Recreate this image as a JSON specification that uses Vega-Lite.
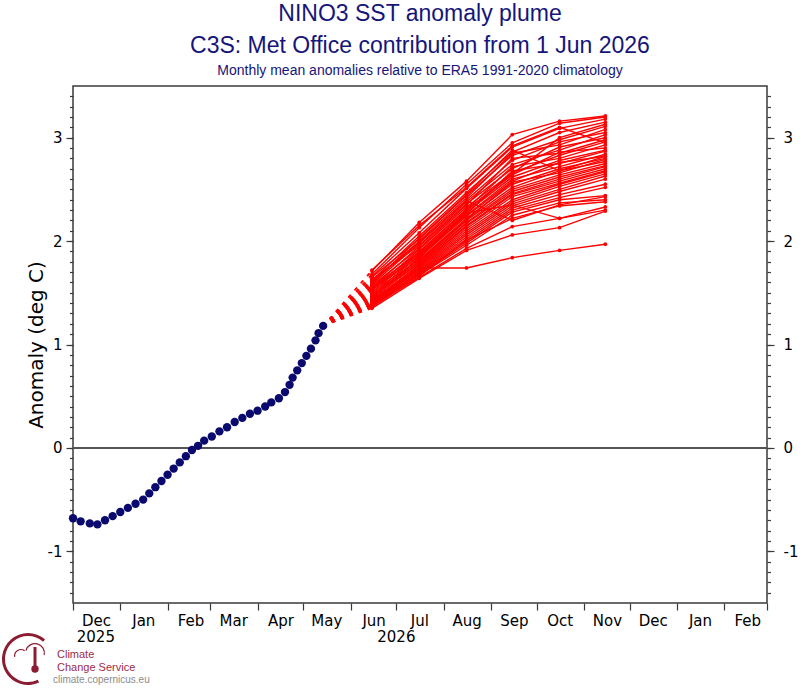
{
  "$schema": "https://vega.github.io/schema/vega-lite/v6.json",
  "autosize": {"type": "none"},
  "width": 694,
  "height": 517,
  "padding": {"left": 73, "top": 86, "right": 33, "bottom": 85},
  "background": "white",
  "title": {
    "text": ["NINO3 SST anomaly plume", "C3S: Met Office contribution from 1 Jun 2026"],
    "subtitle": "Monthly mean anomalies relative to ERA5 1991-2020 climatology",
    "anchor": "middle", "frame": "group",
    "font": "Liberation Sans", "fontSize": 23, "fontWeight": "normal", "color": "#15157a", "lineHeight": 32,
    "subtitleFont": "Liberation Sans", "subtitleFontSize": 14, "subtitleColor": "#15157a", "subtitlePadding": 6,
    "offset": 8
  },
  "config": {
    "view": {"stroke": "#3a3a3a", "strokeWidth": 1.5},
    "axis": {"domain": false, "grid": false, "labelFont": "DejaVu Sans", "labelFontSize": 15, "labelColor": "#000000", "tickColor": "#3a3a3a", "tickWidth": 1.2, "titleFont": "DejaVu Sans", "titleColor": "#000000"}
  },
  "datasets": {
    "obs": [
      {"t":"2025-12-01","v":-0.68},{"t":"2025-12-06","v":-0.71},{"t":"2025-12-12","v":-0.73},{"t":"2025-12-17","v":-0.74},{"t":"2025-12-22","v":-0.70},{"t":"2025-12-27","v":-0.66},{"t":"2026-01-01","v":-0.62},{"t":"2026-01-06","v":-0.58},{"t":"2026-01-11","v":-0.54},{"t":"2026-01-16","v":-0.50},{"t":"2026-01-20","v":-0.44},{"t":"2026-01-24","v":-0.38},{"t":"2026-01-28","v":-0.32},{"t":"2026-02-01","v":-0.26},{"t":"2026-02-05","v":-0.20},{"t":"2026-02-09","v":-0.14},{"t":"2026-02-13","v":-0.08},{"t":"2026-02-17","v":-0.02},{"t":"2026-02-21","v":0.02},{"t":"2026-02-25","v":0.07},{"t":"2026-03-02","v":0.11},{"t":"2026-03-07","v":0.16},{"t":"2026-03-12","v":0.20},{"t":"2026-03-17","v":0.25},{"t":"2026-03-22","v":0.29},{"t":"2026-03-27","v":0.33},{"t":"2026-04-01","v":0.36},{"t":"2026-04-06","v":0.40},{"t":"2026-04-10","v":0.44},{"t":"2026-04-15","v":0.48},{"t":"2026-04-19","v":0.54},{"t":"2026-04-22","v":0.61},{"t":"2026-04-24","v":0.68},{"t":"2026-04-27","v":0.75},{"t":"2026-04-30","v":0.82},{"t":"2026-05-03","v":0.89},{"t":"2026-05-06","v":0.96},{"t":"2026-05-09","v":1.04},{"t":"2026-05-11","v":1.11},{"t":"2026-05-14","v":1.18}
    ],
    "ens": [
      {"m":1,"t":"2026-05-14","v":1.18},{"m":1,"t":"2026-06-15","v":1.71},{"m":1,"t":"2026-07-16","v":2.18},{"m":1,"t":"2026-08-16","v":2.58},{"m":1,"t":"2026-09-15","v":3.03},{"m":1,"t":"2026-10-16","v":3.16},{"m":1,"t":"2026-11-15","v":3.21},
      {"m":2,"t":"2026-05-14","v":1.18},{"m":2,"t":"2026-06-15","v":1.68},{"m":2,"t":"2026-07-16","v":2.13},{"m":2,"t":"2026-08-16","v":2.55},{"m":2,"t":"2026-09-15","v":2.95},{"m":2,"t":"2026-10-16","v":3.14},{"m":2,"t":"2026-11-15","v":3.20},
      {"m":3,"t":"2026-05-14","v":1.18},{"m":3,"t":"2026-06-15","v":1.66},{"m":3,"t":"2026-07-16","v":2.08},{"m":3,"t":"2026-08-16","v":2.51},{"m":3,"t":"2026-09-15","v":2.91},{"m":3,"t":"2026-10-16","v":3.09},{"m":3,"t":"2026-11-15","v":3.18},
      {"m":4,"t":"2026-05-14","v":1.18},{"m":4,"t":"2026-06-15","v":1.62},{"m":4,"t":"2026-07-16","v":2.05},{"m":4,"t":"2026-08-16","v":2.47},{"m":4,"t":"2026-09-15","v":2.86},{"m":4,"t":"2026-10-16","v":3.05},{"m":4,"t":"2026-11-15","v":3.15},
      {"m":5,"t":"2026-05-14","v":1.18},{"m":5,"t":"2026-06-15","v":1.65},{"m":5,"t":"2026-07-16","v":2.02},{"m":5,"t":"2026-08-16","v":2.44},{"m":5,"t":"2026-09-15","v":2.83},{"m":5,"t":"2026-10-16","v":2.98},{"m":5,"t":"2026-11-15","v":3.11},
      {"m":6,"t":"2026-05-14","v":1.18},{"m":6,"t":"2026-06-15","v":1.60},{"m":6,"t":"2026-07-16","v":2.00},{"m":6,"t":"2026-08-16","v":2.42},{"m":6,"t":"2026-09-15","v":2.85},{"m":6,"t":"2026-10-16","v":2.93},{"m":6,"t":"2026-11-15","v":3.08},
      {"m":7,"t":"2026-05-14","v":1.18},{"m":7,"t":"2026-06-15","v":1.58},{"m":7,"t":"2026-07-16","v":1.98},{"m":7,"t":"2026-08-16","v":2.40},{"m":7,"t":"2026-09-15","v":2.78},{"m":7,"t":"2026-10-16","v":2.96},{"m":7,"t":"2026-11-15","v":3.05},
      {"m":8,"t":"2026-05-14","v":1.18},{"m":8,"t":"2026-06-15","v":1.63},{"m":8,"t":"2026-07-16","v":1.96},{"m":8,"t":"2026-08-16","v":2.38},{"m":8,"t":"2026-09-15","v":2.74},{"m":8,"t":"2026-10-16","v":2.88},{"m":8,"t":"2026-11-15","v":3.03},
      {"m":9,"t":"2026-05-14","v":1.18},{"m":9,"t":"2026-06-15","v":1.55},{"m":9,"t":"2026-07-16","v":1.95},{"m":9,"t":"2026-08-16","v":2.36},{"m":9,"t":"2026-09-15","v":2.70},{"m":9,"t":"2026-10-16","v":2.91},{"m":9,"t":"2026-11-15","v":3.00},
      {"m":10,"t":"2026-05-14","v":1.18},{"m":10,"t":"2026-06-15","v":1.57},{"m":10,"t":"2026-07-16","v":1.93},{"m":10,"t":"2026-08-16","v":2.35},{"m":10,"t":"2026-09-15","v":2.80},{"m":10,"t":"2026-10-16","v":2.85},{"m":10,"t":"2026-11-15","v":2.98},
      {"m":11,"t":"2026-05-14","v":1.18},{"m":11,"t":"2026-06-15","v":1.52},{"m":11,"t":"2026-07-16","v":1.92},{"m":11,"t":"2026-08-16","v":2.33},{"m":11,"t":"2026-09-15","v":2.66},{"m":11,"t":"2026-10-16","v":2.83},{"m":11,"t":"2026-11-15","v":2.96},
      {"m":12,"t":"2026-05-14","v":1.18},{"m":12,"t":"2026-06-15","v":1.54},{"m":12,"t":"2026-07-16","v":1.90},{"m":12,"t":"2026-08-16","v":2.31},{"m":12,"t":"2026-09-15","v":2.72},{"m":12,"t":"2026-10-16","v":2.80},{"m":12,"t":"2026-11-15","v":2.93},
      {"m":13,"t":"2026-05-14","v":1.18},{"m":13,"t":"2026-06-15","v":1.50},{"m":13,"t":"2026-07-16","v":1.89},{"m":13,"t":"2026-08-16","v":2.30},{"m":13,"t":"2026-09-15","v":2.64},{"m":13,"t":"2026-10-16","v":2.86},{"m":13,"t":"2026-11-15","v":2.90},
      {"m":14,"t":"2026-05-14","v":1.18},{"m":14,"t":"2026-06-15","v":1.56},{"m":14,"t":"2026-07-16","v":1.88},{"m":14,"t":"2026-08-16","v":2.28},{"m":14,"t":"2026-09-15","v":2.62},{"m":14,"t":"2026-10-16","v":2.78},{"m":14,"t":"2026-11-15","v":2.88},
      {"m":15,"t":"2026-05-14","v":1.18},{"m":15,"t":"2026-06-15","v":1.48},{"m":15,"t":"2026-07-16","v":1.86},{"m":15,"t":"2026-08-16","v":2.26},{"m":15,"t":"2026-09-15","v":2.68},{"m":15,"t":"2026-10-16","v":2.75},{"m":15,"t":"2026-11-15","v":2.87},
      {"m":16,"t":"2026-05-14","v":1.18},{"m":16,"t":"2026-06-15","v":1.53},{"m":16,"t":"2026-07-16","v":1.85},{"m":16,"t":"2026-08-16","v":2.25},{"m":16,"t":"2026-09-15","v":2.60},{"m":16,"t":"2026-10-16","v":2.72},{"m":16,"t":"2026-11-15","v":2.84},
      {"m":17,"t":"2026-05-14","v":1.18},{"m":17,"t":"2026-06-15","v":1.46},{"m":17,"t":"2026-07-16","v":1.84},{"m":17,"t":"2026-08-16","v":2.24},{"m":17,"t":"2026-09-15","v":2.58},{"m":17,"t":"2026-10-16","v":2.76},{"m":17,"t":"2026-11-15","v":2.82},
      {"m":18,"t":"2026-05-14","v":1.18},{"m":18,"t":"2026-06-15","v":1.51},{"m":18,"t":"2026-07-16","v":1.82},{"m":18,"t":"2026-08-16","v":2.22},{"m":18,"t":"2026-09-15","v":2.55},{"m":18,"t":"2026-10-16","v":2.70},{"m":18,"t":"2026-11-15","v":2.80},
      {"m":19,"t":"2026-05-14","v":1.18},{"m":19,"t":"2026-06-15","v":1.45},{"m":19,"t":"2026-07-16","v":1.81},{"m":19,"t":"2026-08-16","v":2.21},{"m":19,"t":"2026-09-15","v":2.57},{"m":19,"t":"2026-10-16","v":2.66},{"m":19,"t":"2026-11-15","v":2.79},
      {"m":20,"t":"2026-05-14","v":1.18},{"m":20,"t":"2026-06-15","v":1.49},{"m":20,"t":"2026-07-16","v":1.80},{"m":20,"t":"2026-08-16","v":2.20},{"m":20,"t":"2026-09-15","v":2.52},{"m":20,"t":"2026-10-16","v":2.68},{"m":20,"t":"2026-11-15","v":2.77},
      {"m":21,"t":"2026-05-14","v":1.18},{"m":21,"t":"2026-06-15","v":1.44},{"m":21,"t":"2026-07-16","v":1.79},{"m":21,"t":"2026-08-16","v":2.18},{"m":21,"t":"2026-09-15","v":2.50},{"m":21,"t":"2026-10-16","v":2.64},{"m":21,"t":"2026-11-15","v":2.75},
      {"m":22,"t":"2026-05-14","v":1.18},{"m":22,"t":"2026-06-15","v":1.47},{"m":22,"t":"2026-07-16","v":1.78},{"m":22,"t":"2026-08-16","v":2.17},{"m":22,"t":"2026-09-15","v":2.48},{"m":22,"t":"2026-10-16","v":2.62},{"m":22,"t":"2026-11-15","v":2.73},
      {"m":23,"t":"2026-05-14","v":1.18},{"m":23,"t":"2026-06-15","v":1.42},{"m":23,"t":"2026-07-16","v":1.77},{"m":23,"t":"2026-08-16","v":2.15},{"m":23,"t":"2026-09-15","v":2.46},{"m":23,"t":"2026-10-16","v":2.60},{"m":23,"t":"2026-11-15","v":2.72},
      {"m":24,"t":"2026-05-14","v":1.18},{"m":24,"t":"2026-06-15","v":1.43},{"m":24,"t":"2026-07-16","v":1.76},{"m":24,"t":"2026-08-16","v":2.14},{"m":24,"t":"2026-09-15","v":2.45},{"m":24,"t":"2026-10-16","v":2.58},{"m":24,"t":"2026-11-15","v":2.70},
      {"m":25,"t":"2026-05-14","v":1.18},{"m":25,"t":"2026-06-15","v":1.41},{"m":25,"t":"2026-07-16","v":1.75},{"m":25,"t":"2026-08-16","v":2.12},{"m":25,"t":"2026-09-15","v":2.43},{"m":25,"t":"2026-10-16","v":2.56},{"m":25,"t":"2026-11-15","v":2.68},
      {"m":26,"t":"2026-05-14","v":1.18},{"m":26,"t":"2026-06-15","v":1.40},{"m":26,"t":"2026-07-16","v":1.74},{"m":26,"t":"2026-08-16","v":2.10},{"m":26,"t":"2026-09-15","v":2.40},{"m":26,"t":"2026-10-16","v":2.55},{"m":26,"t":"2026-11-15","v":2.67},
      {"m":27,"t":"2026-05-14","v":1.18},{"m":27,"t":"2026-06-15","v":1.44},{"m":27,"t":"2026-07-16","v":1.73},{"m":27,"t":"2026-08-16","v":2.08},{"m":27,"t":"2026-09-15","v":2.38},{"m":27,"t":"2026-10-16","v":2.53},{"m":27,"t":"2026-11-15","v":2.65},
      {"m":28,"t":"2026-05-14","v":1.18},{"m":28,"t":"2026-06-15","v":1.39},{"m":28,"t":"2026-07-16","v":1.72},{"m":28,"t":"2026-08-16","v":2.06},{"m":28,"t":"2026-09-15","v":2.36},{"m":28,"t":"2026-10-16","v":2.50},{"m":28,"t":"2026-11-15","v":2.63},
      {"m":29,"t":"2026-05-14","v":1.18},{"m":29,"t":"2026-06-15","v":1.42},{"m":29,"t":"2026-07-16","v":1.71},{"m":29,"t":"2026-08-16","v":2.04},{"m":29,"t":"2026-09-15","v":2.34},{"m":29,"t":"2026-10-16","v":2.48},{"m":29,"t":"2026-11-15","v":2.60},
      {"m":30,"t":"2026-05-14","v":1.18},{"m":30,"t":"2026-06-15","v":1.38},{"m":30,"t":"2026-07-16","v":1.70},{"m":30,"t":"2026-08-16","v":2.02},{"m":30,"t":"2026-09-15","v":2.32},{"m":30,"t":"2026-10-16","v":2.45},{"m":30,"t":"2026-11-15","v":2.55},
      {"m":31,"t":"2026-05-14","v":1.18},{"m":31,"t":"2026-06-15","v":1.40},{"m":31,"t":"2026-07-16","v":1.69},{"m":31,"t":"2026-08-16","v":2.00},{"m":31,"t":"2026-09-15","v":2.30},{"m":31,"t":"2026-10-16","v":2.42},{"m":31,"t":"2026-11-15","v":2.52},
      {"m":32,"t":"2026-05-14","v":1.18},{"m":32,"t":"2026-06-15","v":1.37},{"m":32,"t":"2026-07-16","v":1.68},{"m":32,"t":"2026-08-16","v":1.98},{"m":32,"t":"2026-09-15","v":2.28},{"m":32,"t":"2026-10-16","v":2.40},{"m":32,"t":"2026-11-15","v":2.44},
      {"m":33,"t":"2026-05-14","v":1.18},{"m":33,"t":"2026-06-15","v":1.39},{"m":33,"t":"2026-07-16","v":1.67},{"m":33,"t":"2026-08-16","v":1.96},{"m":33,"t":"2026-09-15","v":2.25},{"m":33,"t":"2026-10-16","v":2.37},{"m":33,"t":"2026-11-15","v":2.40},
      {"m":34,"t":"2026-05-14","v":1.18},{"m":34,"t":"2026-06-15","v":1.36},{"m":34,"t":"2026-07-16","v":1.66},{"m":34,"t":"2026-08-16","v":2.01},{"m":34,"t":"2026-09-15","v":2.22},{"m":34,"t":"2026-10-16","v":2.34},{"m":34,"t":"2026-11-15","v":2.38},
      {"m":35,"t":"2026-05-14","v":1.18},{"m":35,"t":"2026-06-15","v":1.38},{"m":35,"t":"2026-07-16","v":1.65},{"m":35,"t":"2026-08-16","v":1.93},{"m":35,"t":"2026-09-15","v":2.14},{"m":35,"t":"2026-10-16","v":2.22},{"m":35,"t":"2026-11-15","v":2.30},
      {"m":36,"t":"2026-05-14","v":1.18},{"m":36,"t":"2026-06-15","v":1.35},{"m":36,"t":"2026-07-16","v":1.64},{"m":36,"t":"2026-08-16","v":1.91},{"m":36,"t":"2026-09-15","v":2.06},{"m":36,"t":"2026-10-16","v":2.13},{"m":36,"t":"2026-11-15","v":2.29},
      {"m":37,"t":"2026-05-14","v":1.18},{"m":37,"t":"2026-06-15","v":1.37},{"m":37,"t":"2026-07-16","v":1.74},{"m":37,"t":"2026-08-16","v":1.74},{"m":37,"t":"2026-09-15","v":1.84},{"m":37,"t":"2026-10-16","v":1.91},{"m":37,"t":"2026-11-15","v":1.97},
      {"m":38,"t":"2026-05-14","v":1.18},{"m":38,"t":"2026-06-15","v":1.72},{"m":38,"t":"2026-07-16","v":2.15},{"m":38,"t":"2026-08-16","v":2.52},{"m":38,"t":"2026-09-15","v":2.92},{"m":38,"t":"2026-10-16","v":3.10},{"m":38,"t":"2026-11-15","v":2.95},
      {"m":39,"t":"2026-05-14","v":1.18},{"m":39,"t":"2026-06-15","v":1.59},{"m":39,"t":"2026-07-16","v":2.03},{"m":39,"t":"2026-08-16","v":2.45},{"m":39,"t":"2026-09-15","v":2.88},{"m":39,"t":"2026-10-16","v":2.68},{"m":39,"t":"2026-11-15","v":2.82},
      {"m":40,"t":"2026-05-14","v":1.18},{"m":40,"t":"2026-06-15","v":1.61},{"m":40,"t":"2026-07-16","v":1.99},{"m":40,"t":"2026-08-16","v":2.39},{"m":40,"t":"2026-09-15","v":2.20},{"m":40,"t":"2026-10-16","v":2.35},{"m":40,"t":"2026-11-15","v":2.43},
      {"m":41,"t":"2026-05-14","v":1.18},{"m":41,"t":"2026-06-15","v":1.46},{"m":41,"t":"2026-07-16","v":1.83},{"m":41,"t":"2026-08-16","v":2.30},{"m":41,"t":"2026-09-15","v":2.65},{"m":41,"t":"2026-10-16","v":3.00},{"m":41,"t":"2026-11-15","v":3.13},
      {"m":42,"t":"2026-05-14","v":1.18},{"m":42,"t":"2026-06-15","v":1.53},{"m":42,"t":"2026-07-16","v":1.87},{"m":42,"t":"2026-08-16","v":2.27},{"m":42,"t":"2026-09-15","v":2.35},{"m":42,"t":"2026-10-16","v":2.22},{"m":42,"t":"2026-11-15","v":2.33}
    ],
    "years": [
      {"yr": "2025", "t": "2025-12-16"},
      {"yr": "2026", "t": "2026-07-01"}
    ]
  },
  "resolve": {"axis": {"y": "independent"}},
  "layer": [
    {
      "data": {"name": "ens"},
      "transform": [{"filter": {"field": "t", "lte": {"year": 2026, "month": 6, "date": 15, "utc": true}}}],
      "mark": {"type": "line", "color": "#ff0000", "strokeWidth": 1.3, "strokeDash": [3.5, 6]},
      "encoding": {
        "x": {
          "field": "t", "type": "temporal", "title": null,
          "scale": {"type": "utc", "domain": [{"year": 2025, "month": 12, "date": 1, "utc": true}, {"year": 2027, "month": 3, "date": 1, "utc": true}]},
          "axis": {
            "orient": "bottom",
            "values": [
              {"year": 2025, "month": 12, "date": 1, "utc": true},
              {"year": 2026, "month": 1, "date": 1, "utc": true},
              {"year": 2026, "month": 2, "date": 1, "utc": true},
              {"year": 2026, "month": 3, "date": 1, "utc": true},
              {"year": 2026, "month": 4, "date": 1, "utc": true},
              {"year": 2026, "month": 5, "date": 1, "utc": true},
              {"year": 2026, "month": 6, "date": 1, "utc": true},
              {"year": 2026, "month": 7, "date": 1, "utc": true},
              {"year": 2026, "month": 8, "date": 1, "utc": true},
              {"year": 2026, "month": 9, "date": 1, "utc": true},
              {"year": 2026, "month": 10, "date": 1, "utc": true},
              {"year": 2026, "month": 11, "date": 1, "utc": true},
              {"year": 2026, "month": 12, "date": 1, "utc": true},
              {"year": 2027, "month": 1, "date": 1, "utc": true},
              {"year": 2027, "month": 2, "date": 1, "utc": true},
              {"year": 2027, "month": 3, "date": 1, "utc": true}
            ],
            "labelExpr": "utcFormat(datum.value, '%Y%m') == '202703' ? '' : utcFormat(datum.value, '%b')",
            "labelOffset": 23, "labelFlush": false, "labelOverlap": false, "labelBound": false,
            "tickSize": 7, "labelPadding": 3, "labelBaseline": "top"
          }
        },
        "y": {
          "field": "v", "type": "quantitative", "title": null,
          "scale": {"domain": [-1.5, 3.5], "nice": false, "zero": false},
          "axis": {"orient": "right", "values": [-1.4, -1.3, -1.2, -1.1, -1.0, -0.9, -0.8, -0.7, -0.6, -0.5, -0.4, -0.3, -0.2, -0.1, 0, 0.1, 0.2, 0.3, 0.4, 0.5, 0.6, 0.7, 0.8, 0.9, 1.0, 1.1, 1.2, 1.3, 1.4, 1.5, 1.6, 1.7, 1.8, 1.9, 2.0, 2.1, 2.2, 2.3, 2.4, 2.5, 2.6, 2.7, 2.8, 2.9, 3.0, 3.1, 3.2, 3.3, 3.4], "labels": false, "tickSize": 3.5, "title": null}
        },
        "detail": {"field": "m", "type": "nominal"}
      }
    },
    {
      "data": {"name": "ens"},
      "transform": [{"filter": {"field": "t", "gte": {"year": 2026, "month": 6, "date": 15, "utc": true}}}],
      "mark": {"type": "line", "color": "#ff0000", "strokeWidth": 1.4},
      "encoding": {
        "x": {"field": "t", "type": "temporal", "title": null},
        "y": {"field": "v", "type": "quantitative", "title": null, "axis": {"orient": "left", "values": [-1.4, -1.3, -1.2, -1.1, -1.0, -0.9, -0.8, -0.7, -0.6, -0.5, -0.4, -0.3, -0.2, -0.1, 0, 0.1, 0.2, 0.3, 0.4, 0.5, 0.6, 0.7, 0.8, 0.9, 1.0, 1.1, 1.2, 1.3, 1.4, 1.5, 1.6, 1.7, 1.8, 1.9, 2.0, 2.1, 2.2, 2.3, 2.4, 2.5, 2.6, 2.7, 2.8, 2.9, 3.0, 3.1, 3.2, 3.3, 3.4], "labels": false, "tickSize": 3.5, "title": null}},
        "detail": {"field": "m", "type": "nominal"}
      }
    },
    {
      "data": {"name": "ens"},
      "transform": [{"filter": {"field": "t", "gte": {"year": 2026, "month": 6, "date": 15, "utc": true}}}],
      "mark": {"type": "circle", "color": "#ff0000", "size": 14, "opacity": 1},
      "encoding": {
        "x": {"field": "t", "type": "temporal", "title": null},
        "y": {"field": "v", "type": "quantitative", "title": null, "axis": {"orient": "right", "values": [-1, 0, 1, 2, 3], "labelExpr": "datum.value < 0 ? '-' + abs(datum.value) : '' + datum.value", "tickSize": 7, "labelPadding": 9, "title": null}}
      }
    },
    {
      "data": {"name": "obs"},
      "mark": {"type": "rule", "color": "#555555", "strokeWidth": 1},
      "encoding": {
        "y": {"datum": 0, "type": "quantitative", "axis": null}
      }
    },
    {
      "data": {"name": "obs"},
      "mark": {"type": "circle", "size": 70, "opacity": 1, "color": "#0a0a6e"},
      "encoding": {
        "x": {"field": "t", "type": "temporal", "title": null},
        "y": {
          "field": "v", "type": "quantitative",
          "axis": {"orient": "left", "values": [-1, 0, 1, 2, 3], "labelExpr": "datum.value < 0 ? '-' + abs(datum.value) : '' + datum.value", "tickSize": 7, "labelPadding": 4, "title": "Anomaly (deg C)", "titleFontSize": 20, "titleFontWeight": "normal", "titlePadding": 1}
        }
      }
    },
    {
      "data": {"name": "years"},
      "mark": {"type": "text", "font": "DejaVu Sans", "fontSize": 15, "color": "#000000", "dy": 34, "baseline": "middle", "align": "center"},
      "encoding": {
        "x": {"field": "t", "type": "temporal", "title": null},
        "y": {"datum": -1.5, "type": "quantitative", "axis": null},
        "text": {"field": "yr"}
      }
    },
    {
      "data": {"values": [{"label": "Climate\nChange Service"}]},
      "mark": {"type": "text", "font": "Liberation Sans", "fontSize": 11, "color": "#9c2c48", "dx": -16, "dy": 52, "align": "left", "baseline": "middle", "lineBreak": "\n", "lineHeight": 13},
      "encoding": {
        "x": {"datum": {"year": 2025, "month": 12, "date": 1, "utc": true}, "type": "temporal"},
        "y": {"datum": -1.5, "type": "quantitative", "axis": null},
        "text": {"field": "label"}
      }
    },
    {
      "data": {"values": [{"label": "climate.copernicus.eu"}]},
      "mark": {"type": "text", "font": "Liberation Sans", "fontSize": 10, "color": "#8c8c8c", "dx": -20, "dy": 77, "align": "left", "baseline": "middle"},
      "encoding": {
        "x": {"datum": {"year": 2025, "month": 12, "date": 1, "utc": true}, "type": "temporal"},
        "y": {"datum": -1.5, "type": "quantitative", "axis": null},
        "text": {"field": "label"}
      }
    },
    {
      "data": {"values": [{"part": "ring"}]},
      "mark": {"type": "arc", "radius": 26, "radius2": 23, "theta": 2.7, "theta2": 7.0, "color": "#8b1c32", "xOffset": -45, "yOffset": 56},
      "encoding": {
        "x": {"datum": {"year": 2025, "month": 12, "date": 1, "utc": true}, "type": "temporal"},
        "y": {"datum": -1.5, "type": "quantitative", "axis": null}
      }
    },
    {
      "data": {"values": [{"part": "cloud-left"}]},
      "mark": {"type": "arc", "radius": 7, "radius2": 5.8, "theta": -1.7, "theta2": 0.6, "color": "#8b1c32", "xOffset": -52, "yOffset": 53},
      "encoding": {
        "x": {"datum": {"year": 2025, "month": 12, "date": 1, "utc": true}, "type": "temporal"},
        "y": {"datum": -1.5, "type": "quantitative", "axis": null}
      }
    },
    {
      "data": {"values": [{"part": "cloud-top"}]},
      "mark": {"type": "arc", "radius": 10, "radius2": 8.8, "theta": -1.3, "theta2": 1.8, "color": "#8b1c32", "xOffset": -38, "yOffset": 50},
      "encoding": {
        "x": {"datum": {"year": 2025, "month": 12, "date": 1, "utc": true}, "type": "temporal"},
        "y": {"datum": -1.5, "type": "quantitative", "axis": null}
      }
    },
    {
      "data": {"values": [{"part": "thermometer"}]},
      "mark": {"type": "tick", "orient": "vertical", "size": 20, "thickness": 3, "color": "#8b1c32", "opacity": 1, "xOffset": -38, "yOffset": 54},
      "encoding": {
        "x": {"datum": {"year": 2025, "month": 12, "date": 1, "utc": true}, "type": "temporal"},
        "y": {"datum": -1.5, "type": "quantitative", "axis": null}
      }
    },
    {
      "data": {"values": [{"part": "bulb"}]},
      "mark": {"type": "circle", "size": 55, "color": "#8b1c32", "opacity": 1, "xOffset": -38, "yOffset": 66},
      "encoding": {
        "x": {"datum": {"year": 2025, "month": 12, "date": 1, "utc": true}, "type": "temporal"},
        "y": {"datum": -1.5, "type": "quantitative", "axis": null}
      }
    }
  ]
}
